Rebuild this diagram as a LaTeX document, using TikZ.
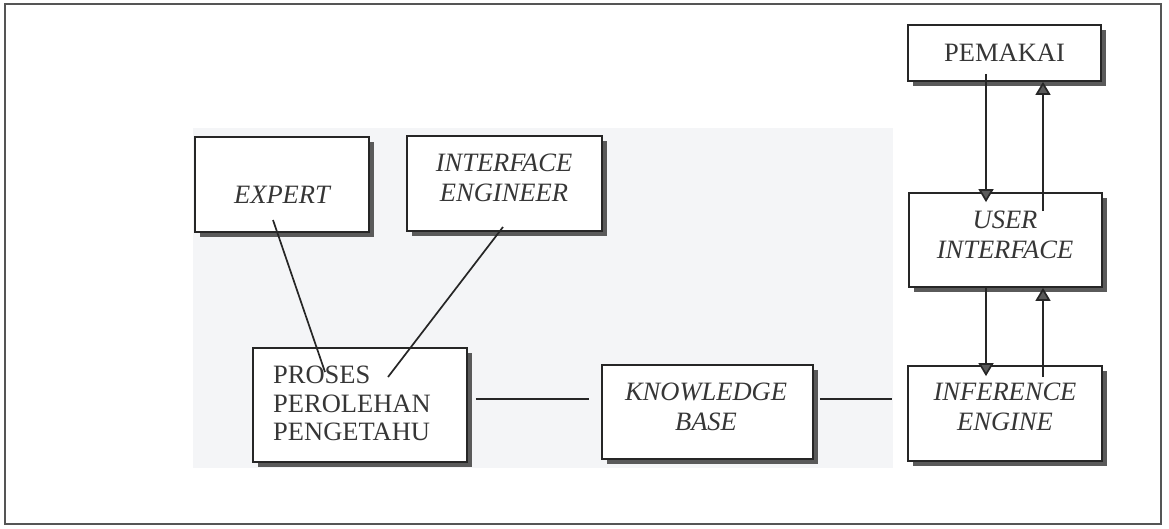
\documentclass[tikz,border=0pt]{standalone}
\usepackage{fontspec}
\setmainfont{Liberation Serif}
\usetikzlibrary{arrows.meta}
\definecolor{ink}{HTML}{262626}
\definecolor{txt}{HTML}{363636}
\definecolor{shade}{HTML}{5A5A5A}
\definecolor{framegray}{HTML}{555555}
\definecolor{tint}{HTML}{F4F5F7}

\begin{document}
\begin{tikzpicture}[x=1pt,y=-1pt,
  box/.style={draw=ink, line width=1.8pt, fill=white, rectangle, inner sep=0pt,
    preaction={fill=shade, transform canvas={xshift=5pt,yshift=-5pt}}},
  lbl/.style={inner sep=0pt, text=txt, font=\fontsize{26.5}{29.5}\selectfont, align=center},
  link/.style={draw=ink, line width=1.7pt},
  arr/.style={link, -{Triangle[width=15pt,length=13pt,fill=shade]}}
]
\useasboundingbox (0,0) rectangle (1169,528);

% outer frame and paper tone
\draw[framegray, line width=1.4pt] (5,4) rectangle (1161,524);
\fill[tint] (193,128) rectangle (893,468);

% boxes
\node[box, minimum width=174pt, minimum height=95pt] (expert) at (282,184.5) {};
\node[box, minimum width=195pt, minimum height=95pt] (ieng)   at (504.5,183.5) {};
\node[box, minimum width=193pt, minimum height=56pt] (pem)    at (1004.5,53) {};
\node[box, minimum width=193pt, minimum height=94pt] (ui)     at (1005.5,240) {};
\node[box, minimum width=214pt, minimum height=114pt] (proses) at (360,405) {};
\node[box, minimum width=211pt, minimum height=94pt] (kb)     at (707.5,412) {};
\node[box, minimum width=194pt, minimum height=95pt] (inf)    at (1005,413.5) {};

% labels
\node[lbl] (expertT) at (282,195) {\itshape EXPERT};
\node[lbl] (iengT)   at (504,178) {\itshape INTERFACE\\\itshape ENGINEER};
\node[lbl] (pemT)    at (1004.5,53) {PEMAKAI};
\node[lbl] (uiT)     at (1005,235) {\itshape USER\\\itshape INTERFACE};
\node[lbl, anchor=west, align=left, font=\fontsize{26.5}{28.5}\selectfont] (prosesT) at (273,403.5) {PROSES\\PEROLEHAN\\PENGETAHU};
\node[lbl] (kbT)     at (706,407) {\itshape KNOWLEDGE\\\itshape BASE};
\node[lbl] (infT)    at (1005,407) {\itshape INFERENCE\\\itshape ENGINE};

% links into the acquisition process
\draw[link] ([xshift=-9pt,yshift=-35.5pt]expert.center) -- ([xshift=-35pt,yshift=33pt]proses.center);
\draw[link] ([xshift=-1.5pt,yshift=-43.5pt]ieng.center) -- ([xshift=28pt,yshift=28pt]proses.center);

% horizontal chain
\draw[link] ([xshift=8pt,yshift=6pt]proses.east) -- ([xshift=-12pt,yshift=13pt]kb.west);
\draw[link] ([xshift=6pt,yshift=13pt]kb.east) -- ([xshift=-15pt,yshift=14.5pt]inf.west);

% two-way arrows on the right
\draw[arr] ([xshift=-18.5pt,yshift=8pt]pem.south) -- ([xshift=-19.5pt,yshift=-10pt]ui.north);
\draw[arr] ([xshift=37.5pt,yshift=-19pt]ui.north) -- ([xshift=38.5pt]pem.south);
\draw[arr] ([xshift=-19.5pt]ui.south) -- ([xshift=-19pt,yshift=-11pt]inf.north);
\draw[arr] ([xshift=38pt,yshift=-12pt]inf.north) -- ([xshift=37.5pt]ui.south);
\end{tikzpicture}
\end{document}
